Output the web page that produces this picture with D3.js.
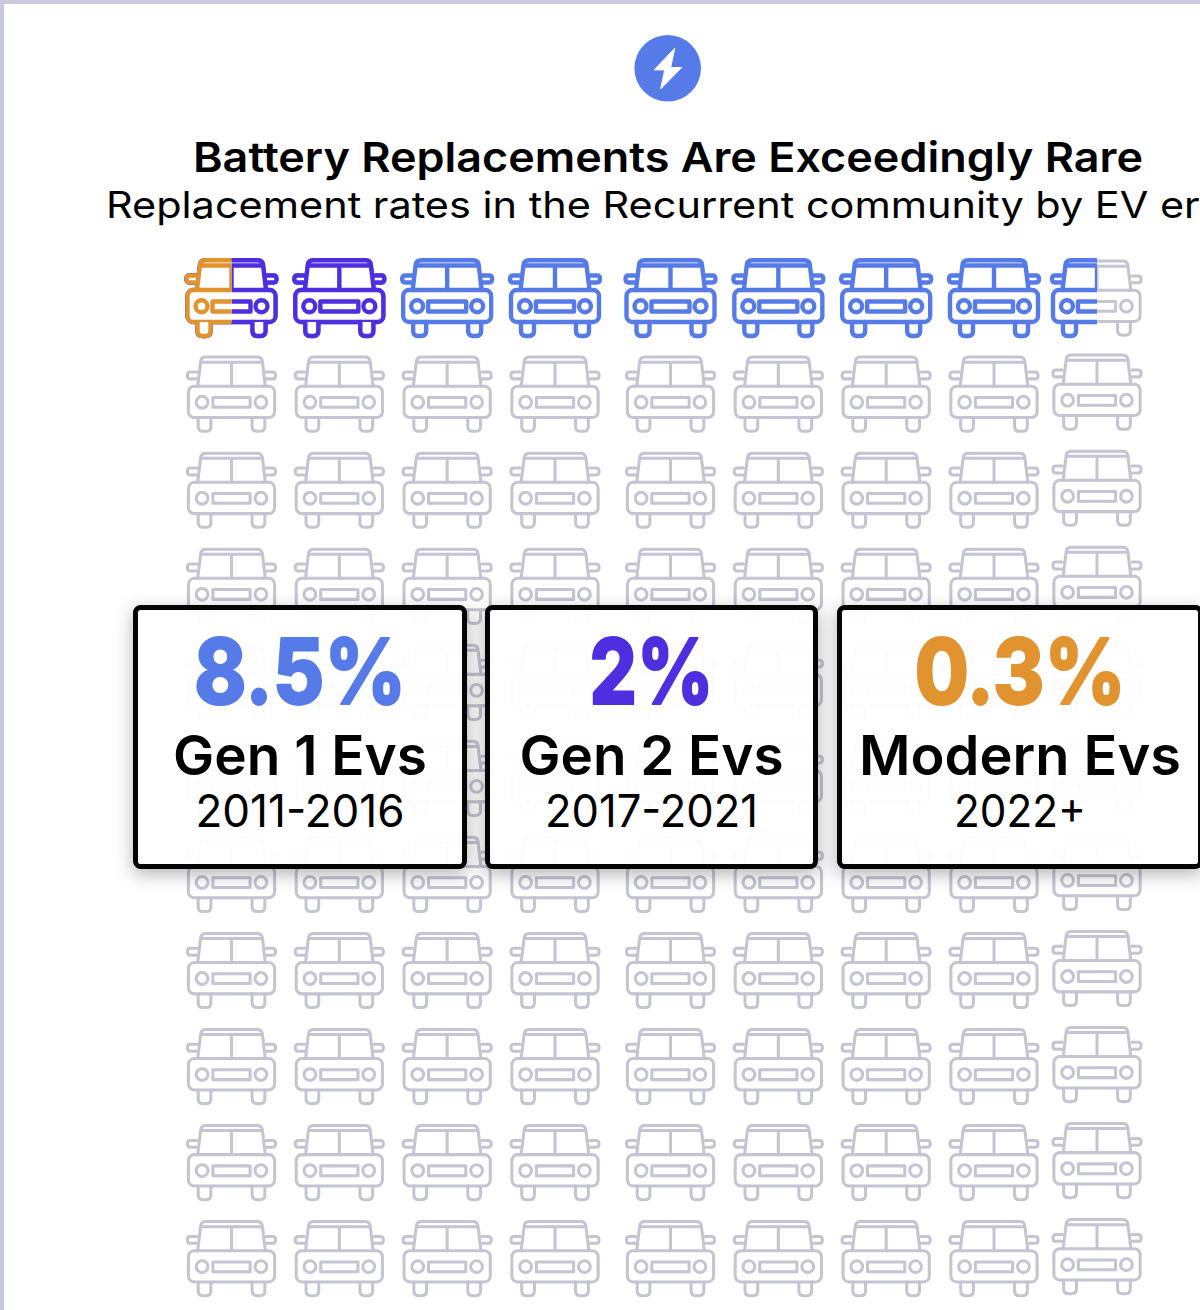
<!DOCTYPE html>
<html>
<head>
<meta charset="utf-8">
<script src="https://cdnjs.cloudflare.com/ajax/libs/d3/7.8.5/d3.min.js"></script>
<style>
  html, body { margin: 0; padding: 0; background: #fff; overflow: hidden; }
  svg { display: block; }
  text { font-family: Inter, "Noto Sans", sans-serif; fill: #000; text-anchor: middle; }
</style>
</head>
<body>
<div id="chart"></div>
<script>
// Content
const titleText = "Battery Replacements Are Exceedingly Rare";
const subtitleText = "Replacement rates in the Recurrent community by EV era";
const eras = ["Gen 1 Evs", "Gen 2 Evs", "Modern Evs"];
const eraYears = ["2011-2016", "2017-2021", "2022+"];
const replacementRates = [8.5, 2, 0.3];
const eraColors = ["#567BE8", "#4D2FE0", "#E0932F"];

// Pictogram: one car per percent, 99 cars in all, resolved to half a car
const carColumns = d3.range(9);
const carRows = d3.range(11);
const halfCar = v => Math.round(v * 2) / 2;

// Layout
const width = 1200, height = 1310;
const frameColor = "#C8C8DE", idleColor = "#C4C4D2";
const x = d3.scaleLinear().domain([0, 3, 4, 7, 8]).range([231.5, 555, 670.5, 994, 1097]);
const y = d3.scaleLinear().domain([0, 10]).range([298, 1258.5]);
const cardX = d3.scaleOrdinal().domain(eras).range([133, 485, 837]);
const cardWidths = d3.scaleOrdinal().domain(eras).range([334, 333, 366]);
const rateWidths = [212, 124, 211];
const eraWidths = [254, 264, 322];
const yearWidths = [209, 213, 132];

const svg = d3.select("#chart").append("svg").attr("width", width).attr("height", height);
svg.append("rect").attr("width", width).attr("height", height).attr("fill", "#fff");

const defs = svg.append("defs");

// Soft shadow drawn only outside the shape, so the translucent card stays clean
const outerShadow = defs.append("filter").attr("id", "card-shadow")
  .attr("x", "-15%").attr("y", "-15%").attr("width", "130%").attr("height", "130%");
outerShadow.append("feGaussianBlur").attr("in", "SourceAlpha").attr("stdDeviation", 9).attr("result", "blur");
outerShadow.append("feOffset").attr("in", "blur").attr("dy", 5).attr("result", "moved");
outerShadow.append("feFlood").attr("flood-color", "#000").attr("flood-opacity", 0.3).attr("result", "tint");
outerShadow.append("feComposite").attr("in", "tint").attr("in2", "moved").attr("operator", "in").attr("result", "shade");
outerShadow.append("feComposite").attr("in", "shade").attr("in2", "SourceAlpha").attr("operator", "out");

// Page frame along the top and left edges
svg.append("rect").attr("width", width).attr("height", 4).attr("fill", frameColor);
svg.append("rect").attr("width", 4).attr("height", height).attr("fill", frameColor);

// Lightning badge
const badge = svg.append("g").attr("transform", "translate(667.7,68.3)");
badge.append("circle").attr("r", 33.3).attr("fill", eraColors[0]);
badge.append("path")
  .attr("d", "M7,-20 L-13.5,1.6 L-3,1.6 L-7,20.5 L14,-0.8 L3,-0.8 Z")
  .attr("fill", "#fff").attr("stroke", "#fff").attr("stroke-width", 1).attr("stroke-linejoin", "round");

// Headings
svg.append("text").attr("x", 668).attr("y", 172)
  .attr("font-size", 41).attr("font-weight", 600)
  .attr("textLength", 950).attr("lengthAdjust", "spacingAndGlyphs")
  .text(titleText);
svg.append("text").attr("x", 664.5).attr("y", 218)
  .attr("font-size", 37).attr("font-weight", 400)
  .attr("textLength", 1117).attr("lengthAdjust", "spacingAndGlyphs")
  .text(subtitleText);

// Car outline, centred on its own origin
function drawCar(g) {
  g.append("path").attr("d", "M-34.5,-8 L-31.5,-33 Q-31,-37.7 -26,-37.7 H26 Q31,-37.7 31.5,-33 L34.5,-8");
  g.append("path").attr("d", "M-31,-32.5 H31 M0,-32.5 V-8");
  g.append("path").attr("d", "M-35.5,-22.5 H-42 Q-45,-22.5 -45,-19 Q-45,-15.5 -42,-15.5 H-35.5");
  g.append("path").attr("d", "M35.5,-22.5 H42 Q45,-22.5 45,-19 Q45,-15.5 42,-15.5 H35.5");
  g.append("rect").attr("x", -44).attr("y", -8).attr("width", 88).attr("height", 32).attr("rx", 6);
  g.append("circle").attr("cx", -30).attr("cy", 8.3).attr("r", 6);
  g.append("circle").attr("cx", 30).attr("cy", 8.3).attr("r", 6);
  g.append("rect").attr("x", -19).attr("y", 3.5).attr("width", 38).attr("height", 10);
  g.append("path").attr("d", "M-34,24 V33 Q-34,38 -29,38 H-26 Q-21,38 -21,33 V24");
  g.append("path").attr("d", "M34,24 V33 Q34,38 29,38 H26 Q21,38 21,33 V24");
}

const carWidth = 92;
const cars = carRows.flatMap(r => carColumns.map(c => ({ r, c, i: r * carColumns.length + c })));

// Each era fills the row from the first car onward; smaller rates paint over larger ones
const carCells = svg.append("g").selectAll("g").data(cars).join("g")
  .attr("transform", d => `translate(${x(d.c)},${y(d.r) - (d.c === 8 && d.r > 0 ? 2 : 0)})`);

carCells.each(function (d) {
  const cell = d3.select(this);
  const covered = (d.r === 0) ? Math.max(0, d3.max(replacementRates, v => Math.min(1, halfCar(v) - d.i))) : 0;
  const base = cell.append("g")
    .attr("fill", "none").attr("stroke", idleColor).attr("stroke-width", 3.1)
    .attr("stroke-linejoin", "round").attr("stroke-linecap", "round")
    .attr("transform", "scale(0.98)");
  if (covered < 1) {
    defs.append("clipPath").attr("id", `rest-${d.i}`).append("rect")
      .attr("x", -carWidth / 2 - 2 + covered * carWidth).attr("y", -45)
      .attr("width", carWidth + 4).attr("height", 90);
    base.attr("clip-path", `url(#rest-${d.i})`);
    drawCar(base);
  }
  replacementRates.forEach((rate, k) => {
    const f = Math.min(1, halfCar(rate) - d.i);
    if (f <= 0) return;
    const id = `fill-${d.i}-${k}`;
    defs.append("clipPath").attr("id", id).append("rect")
      .attr("x", -carWidth / 2 - 3).attr("y", -45)
      .attr("width", f === 1 ? carWidth + 6 : f * carWidth + 3).attr("height", 90);
    const layer = cell.append("g").attr("clip-path", `url(#${id})`)
      .attr("fill", k === 0 ? "none" : "#fff").attr("stroke", eraColors[k]).attr("stroke-width", 4.4)
      .attr("stroke-linejoin", "round").attr("stroke-linecap", "round");
    layer.call(drawCar);
  });
});

// Era cards
const cards = svg.append("g").selectAll("g").data(eras).join("g")
  .attr("transform", d => `translate(${cardX(d)},605)`);
cards.append("rect")
  .attr("width", d => cardWidths(d)).attr("height", 264).attr("rx", 6)
  .attr("fill", "#000")
  .attr("filter", "url(#card-shadow)");
cards.append("rect")
  .attr("x", 2.5).attr("y", 2.5)
  .attr("width", d => cardWidths(d) - 5).attr("height", 259).attr("rx", 5)
  .attr("fill", "rgba(255,255,255,0.94)").attr("stroke", "#050505").attr("stroke-width", 5);

const cx = d => cardWidths(d) / 2;
cards.append("text").attr("x", cx).attr("y", 98.5)
  .attr("font-size", 91).attr("font-weight", 800)
  .attr("textLength", (d, i) => rateWidths[i]).attr("lengthAdjust", "spacingAndGlyphs")
  .style("fill", (d, i) => eraColors[i])
  .style("stroke", (d, i) => eraColors[i]).style("stroke-width", 1.8).style("stroke-linejoin", "round")
  .text((d, i) => replacementRates[i] + "%");
cards.append("text").attr("x", cx).attr("y", 170)
  .attr("font-size", 55).attr("font-weight", 600)
  .attr("textLength", (d, i) => eraWidths[i]).attr("lengthAdjust", "spacingAndGlyphs")
  .text(d => d);
cards.append("text").attr("x", cx).attr("y", 222)
  .attr("font-size", 45).attr("font-weight", 400)
  .attr("textLength", (d, i) => yearWidths[i]).attr("lengthAdjust", "spacingAndGlyphs")
  .text((d, i) => eraYears[i]);
</script>
</body>
</html>
